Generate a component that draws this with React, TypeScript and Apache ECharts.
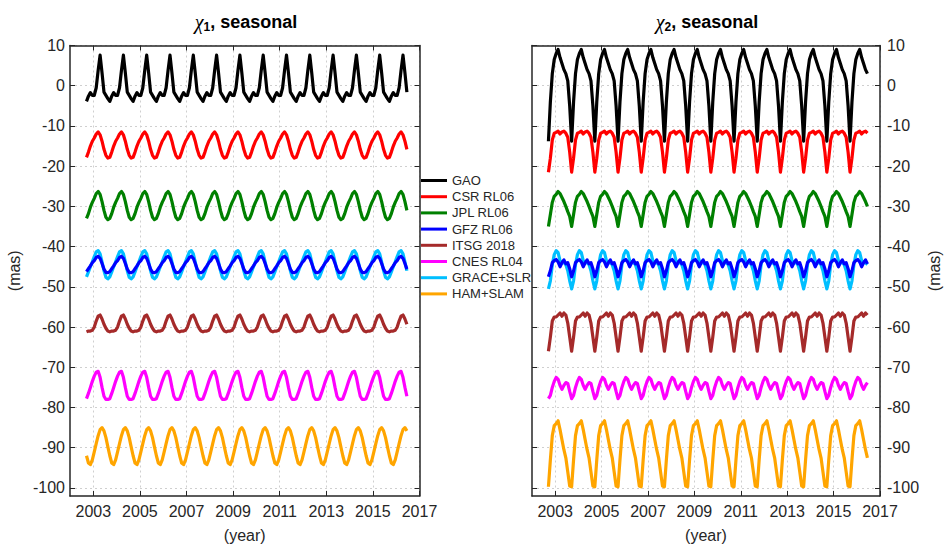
import React, { useEffect, useRef } from 'react';
import * as echarts from 'echarts';

// ---------- data ----------
const SERIES_NAMES = ['GAO', 'CSR RL06', 'JPL RL06', 'GFZ RL06', 'ITSG 2018', 'CNES RL04', 'GRACE+SLR', 'HAM+SLAM'];
const SERIES_COLORS = ['#000000', '#ff0000', '#008000', '#0000ff', '#a52a2a', '#ff00ff', '#00bfff', '#ffa500'];

// first and last month of the monthly series
const START_YEAR = 2002;
const START_MONTH = 9;
const END_YEAR = 2016;
const END_MONTH = 6;

const X_TICKS = [2003, 2005, 2007, 2009, 2011, 2013, 2015, 2017];
const Y_TICKS = [-100, -90, -80, -70, -60, -50, -40, -30, -20, -10, 0, 10];

// Seasonal cycles (mas), monthly values Jan..Dec
// chi1
const CHI1_GAO = [-2.4, -0.5, 3.8, 7.6, 3.2, -1.6, -2.4, -3.2, -3.9, -2.6, -1.7, -2.4];
const CHI1_CSR = [-13.0, -12.0, -11.5, -12.2, -13.8, -15.8, -17.3, -18.0, -17.8, -16.5, -15.0, -13.8];
const CHI1_JPL = [-28.0, -26.8, -26.3, -27.0, -28.8, -31.0, -32.7, -33.3, -33.0, -31.8, -30.2, -29.0];
const CHI1_GFZ = [-43.5, -42.7, -42.4, -42.9, -44.2, -45.6, -46.4, -46.5, -46.2, -45.5, -44.8, -44.0];
const CHI1_ITSG = [-60.0, -58.5, -57.3, -57.0, -58.0, -59.3, -60.3, -61.0, -61.2, -61.0, -61.0, -60.8];
const CHI1_CNES = [-72.2, -71.2, -71.0, -72.5, -75.0, -77.2, -78.0, -78.0, -77.8, -76.5, -75.0, -73.5];
const CHI1_GRACE = [-42.5, -41.3, -41.0, -41.8, -43.8, -46.0, -47.6, -48.0, -47.5, -46.3, -45.0, -43.8];
const CHI1_HAM = [-91.0, -89.0, -87.0, -85.5, -85.0, -85.8, -87.5, -89.8, -92.0, -93.8, -94.2, -93.0];
// chi2
const CHI2_GAO = [8.0, 9.0, 7.0, 5.5, 4.0, 3.0, 1.2, -5.0, -13.8, -4.0, 3.0, 6.5];
const CHI2_CSR = [-11.6, -11.3, -12.0, -11.5, -11.3, -11.8, -12.8, -16.5, -21.5, -18.0, -13.5, -11.8];
const CHI2_JPL = [-27.0, -26.3, -26.8, -27.8, -28.8, -30.0, -31.3, -32.5, -35.0, -32.0, -29.0, -27.5];
const CHI2_GFZ = [-43.2, -43.8, -45.0, -44.0, -43.3, -44.3, -44.0, -45.5, -47.5, -46.0, -44.0, -43.5];
const CHI2_ITSG = [-57.5, -57.0, -56.5, -57.3, -56.5, -57.0, -59.0, -62.5, -66.0, -62.5, -58.5, -57.5];
const CHI2_CNES = [-72.5, -73.0, -74.5, -75.5, -74.5, -73.8, -74.0, -76.0, -77.8, -77.0, -75.0, -73.5];
const CHI2_GRACE = [-41.0, -41.5, -43.5, -44.0, -44.0, -44.5, -46.0, -48.5, -50.5, -48.5, -44.5, -42.0];
const CHI2_HAM = [-84.0, -83.3, -85.5, -88.0, -90.5, -92.5, -96.0, -99.5, -99.7, -93.0, -87.0, -84.5];

const CHI1_CYCLES = [CHI1_GAO, CHI1_CSR, CHI1_JPL, CHI1_GFZ, CHI1_ITSG, CHI1_CNES, CHI1_GRACE, CHI1_HAM];
const CHI2_CYCLES = [CHI2_GAO, CHI2_CSR, CHI2_JPL, CHI2_GFZ, CHI2_ITSG, CHI2_CNES, CHI2_GRACE, CHI2_HAM];

// monthly epochs (year, month)
const EPOCHS: Array<[number, number]> = [];
for (let y = START_YEAR; y <= END_YEAR; y++) {
  for (let m = 1; m <= 12; m++) {
    if (y === START_YEAR && m < START_MONTH) continue;
    if (y === END_YEAR && m > END_MONTH) continue;
    EPOCHS.push([y, m]);
  }
}

const TEXT = '#262626';
const FONT = 'Liberation Sans, Arial, Helvetica, sans-serif';

function buildSeries(cycles: number[][], axisIndex: number) {
  return cycles.map((cyc, k) => ({
    type: 'line',
    name: SERIES_NAMES[k],
    xAxisIndex: axisIndex,
    yAxisIndex: axisIndex,
    data: EPOCHS.map(([y, m]) => [y + (m - 0.5) / 12, cyc[m - 1]]),
    showSymbol: false,
    symbol: 'none',
    color: SERIES_COLORS[k],
    lineStyle: { width: 3.2, color: SERIES_COLORS[k], join: 'round' },
    itemStyle: { color: SERIES_COLORS[k] },
    z: SERIES_NAMES[k] === 'GFZ RL06' ? 3 : 2,
  }));
}

function xAxes(gridIndex: number) {
  const common = {
    type: 'value',
    gridIndex,
    min: 2002,
    max: 2017,
    axisLine: { show: true, onZero: false, lineStyle: { color: TEXT, width: 1.5 } },
    axisTick: { show: true, inside: true, length: 5, customValues: X_TICKS, lineStyle: { color: TEXT, width: 1 } },
  };
  return [
    {
      ...common,
      position: 'bottom',
      axisLabel: {
        show: true,
        customValues: X_TICKS,
        formatter: (v: number) => String(Math.round(v)),
        fontSize: 16,
        color: TEXT,
        fontFamily: FONT,
        margin: 7,
      },
      splitLine: { show: true, lineStyle: { color: '#cfcfcf', type: [2, 3], width: 1 } },
      name: '(year)',
      nameLocation: 'middle',
      nameGap: 31,
      nameTextStyle: { fontSize: 16, color: TEXT, fontFamily: FONT },
    },
    {
      ...common,
      position: 'top',
      axisLabel: { show: false },
      splitLine: { show: false },
    },
  ];
}

function yAxes(gridIndex: number, labelSide: 'left' | 'right') {
  const other = labelSide === 'left' ? 'right' : 'left';
  const common = {
    type: 'value',
    gridIndex,
    min: -102,
    max: 10,
    axisLine: { show: true, onZero: false, lineStyle: { color: TEXT, width: 1.5 } },
    axisTick: { show: true, inside: true, length: 5, customValues: Y_TICKS, lineStyle: { color: TEXT, width: 1 } },
  };
  return [
    {
      ...common,
      position: labelSide,
      axisLabel: {
        show: true,
        customValues: Y_TICKS,
        formatter: (v: number) => String(Math.round(v)),
        fontSize: 16,
        color: TEXT,
        fontFamily: FONT,
        margin: labelSide === 'left' ? 5 : 7,
      },
      splitLine: { show: true, lineStyle: { color: '#cfcfcf', type: [2, 3], width: 1 } },
      name: '(mas)',
      nameLocation: 'middle',
      nameGap: labelSide === 'left' ? 48 : 46,
      nameTextStyle: { fontSize: 16, color: TEXT, fontFamily: FONT },
    },
    {
      ...common,
      position: other,
      axisLabel: { show: false },
      splitLine: { show: false },
    },
  ];
}

function titleText(x: number, sub: string) {
  return {
    type: 'text',
    x,
    y: 22,
    style: {
      text: `{c|χ}{s|${sub}}{b|, seasonal}`,
      align: 'center',
      verticalAlign: 'middle',
      rich: {
        c: { fontSize: 20, fontStyle: 'italic', fontFamily: 'Liberation Serif, Times New Roman, serif', fill: '#000' },
        s: { fontSize: 12, fontWeight: 'bold', fontFamily: FONT, fill: '#000', padding: [9, 0, 0, 0] },
        b: { fontSize: 18, fontWeight: 'bold', fontFamily: FONT, fill: '#000' },
      },
    },
  };
}

export default function App() {
  const ref = useRef<HTMLDivElement>(null);
  useEffect(() => {
    if (!ref.current) return;
    document.body.style.margin = '0';
    const chart = echarts.init(ref.current, undefined, { renderer: 'svg' });
    chart.setOption({
      animation: false,
      backgroundColor: '#ffffff',
      textStyle: { fontFamily: FONT },
      grid: [
        { left: 70, top: 45.5, width: 349.5, height: 456 },
        { left: 532, top: 45.5, width: 348, height: 456 },
      ],
      xAxis: [...xAxes(0), ...xAxes(1)],
      yAxis: [...yAxes(0, 'left'), ...yAxes(1, 'right')],
      legend: {
        orient: 'vertical',
        left: 421,
        top: 173.5,
        padding: 0,
        itemWidth: 26,
        itemHeight: 3,
        itemGap: 2.2,
        icon: 'rect',
        data: SERIES_NAMES,
        textStyle: { fontSize: 13, color: TEXT, fontFamily: FONT, lineHeight: 14 },
      },
      graphic: [titleText(246, '1'), titleText(707, '2')],
      series: [...buildSeries(CHI1_CYCLES, 0), ...buildSeries(CHI2_CYCLES, 2)],
    });
    return () => chart.dispose();
  }, []);
  return <div ref={ref} style={{ width: 944, height: 548 }} />;
}
